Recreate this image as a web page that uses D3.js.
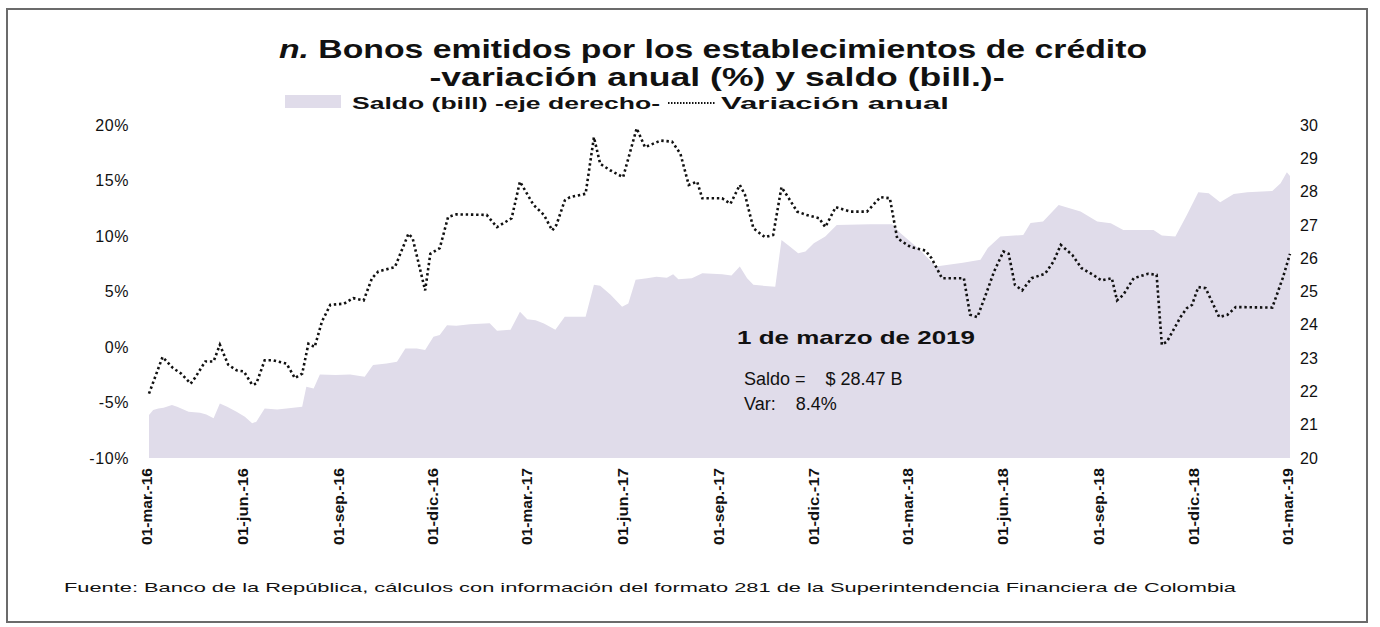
<!DOCTYPE html>
<html>
<head>
<meta charset="utf-8">
<script src="https://cdn.jsdelivr.net/npm/d3@7"></script>
<style>
  body { margin: 0; background: #fff; }
  svg { display: block; font-family: "Liberation Sans", Arial, sans-serif; }
</style>
</head>
<body>
<div id="chart"></div>
<script>
// ---- data ----
const tickDates = ["2016-03-01", "2016-06-01", "2016-09-01", "2016-12-01", "2017-03-01", "2017-06-01",
  "2017-09-01", "2017-12-01", "2018-03-01", "2018-06-01", "2018-09-01", "2018-12-01", "2019-03-01"];
const tickLabels = ["01-mar.-16", "01-jun.-16", "01-sep.-16", "01-dic.-16", "01-mar.-17", "01-jun.-17",
  "01-sep.-17", "01-dic.-17", "01-mar.-18", "01-jun.-18", "01-sep.-18", "01-dic.-18", "01-mar.-19"];
const leftTicks = [-10, -5, 0, 5, 10, 15, 20];
const rightTicks = [20, 21, 22, 23, 24, 25, 26, 27, 28, 29, 30];

// saldo (bill.) - right axis
const saldoDates = ["2016-03-01", "2016-03-05", "2016-03-10", "2016-03-15", "2016-03-23", "2016-03-28",
  "2016-04-08", "2016-04-19", "2016-04-25", "2016-05-02", "2016-05-08", "2016-05-15", "2016-05-24",
  "2016-06-01", "2016-06-08", "2016-06-12", "2016-06-20", "2016-07-02", "2016-07-11", "2016-07-26",
  "2016-07-30", "2016-08-06", "2016-08-12", "2016-08-27", "2016-09-10", "2016-09-24", "2016-10-02",
  "2016-10-15", "2016-10-25", "2016-11-02", "2016-11-13", "2016-11-21", "2016-11-29", "2016-12-05",
  "2016-12-12", "2016-12-21", "2017-01-03", "2017-01-22", "2017-01-29", "2017-02-11", "2017-02-20",
  "2017-02-27", "2017-03-07", "2017-03-15", "2017-03-26", "2017-04-04", "2017-04-24", "2017-05-02",
  "2017-05-08", "2017-05-18", "2017-05-29", "2017-06-04", "2017-06-11", "2017-06-22", "2017-07-01",
  "2017-07-11", "2017-07-17", "2017-07-22", "2017-08-04", "2017-08-14", "2017-09-02", "2017-09-11",
  "2017-09-19", "2017-09-26", "2017-10-02", "2017-10-23", "2017-10-29", "2017-11-06", "2017-11-14",
  "2017-11-21", "2017-11-29", "2017-12-10", "2017-12-21", "2018-01-22", "2018-02-12", "2018-02-20",
  "2018-03-11", "2018-03-26", "2018-04-21", "2018-05-08", "2018-05-15", "2018-05-27", "2018-06-18",
  "2018-06-25", "2018-07-07", "2018-07-22", "2018-08-12", "2018-08-28", "2018-09-10", "2018-09-22",
  "2018-10-21", "2018-10-29", "2018-11-11", "2018-11-22", "2018-12-03", "2018-12-13", "2018-12-24",
  "2019-01-06", "2019-01-19", "2019-02-12", "2019-02-20", "2019-02-26", "2019-03-01"];
const saldoValues = [21.29, 21.44, 21.49, 21.51, 21.59, 21.54,
  21.39, 21.36, 21.31, 21.19, 21.64, 21.54, 21.39,
  21.24, 21.04, 21.09, 21.49, 21.46, 21.49, 21.54,
  22.14, 22.09, 22.51, 22.49, 22.51, 22.44, 22.79,
  22.84, 22.89, 23.29, 23.29, 23.24, 23.64, 23.69,
  23.99, 23.97, 24.02, 24.05, 23.82, 23.85, 24.39,
  24.17, 24.14, 24.04, 23.85, 24.24, 24.24, 25.20,
  25.17, 24.90, 24.54, 24.64, 25.35, 25.40, 25.44,
  25.41, 25.52, 25.37, 25.40, 25.55, 25.52, 25.48,
  25.75, 25.40, 25.20, 25.14, 26.55, 26.35, 26.15,
  26.20, 26.45, 26.65, 27.00, 27.02, 27.02, 26.76,
  26.25, 25.75, 25.86, 25.95, 26.31, 26.65, 26.70,
  27.06, 27.10, 27.60, 27.40, 27.10, 27.05, 26.85,
  26.85, 26.68, 26.65, 27.30, 27.98, 27.95, 27.68,
  27.93, 27.98, 28.02, 28.25, 28.58, 28.47];

// variacion anual (%) - left axis
const varDates = ["2016-03-01", "2016-03-14", "2016-03-24", "2016-04-01", "2016-04-10", "2016-04-14",
  "2016-04-24", "2016-05-02", "2016-05-08", "2016-05-16", "2016-05-24", "2016-05-31", "2016-06-08",
  "2016-06-12", "2016-06-20", "2016-06-28", "2016-07-11", "2016-07-19", "2016-07-26", "2016-08-01",
  "2016-08-07", "2016-08-14", "2016-08-22", "2016-09-04", "2016-09-13", "2016-09-23", "2016-10-01",
  "2016-10-07", "2016-10-23", "2016-11-05", "2016-11-09", "2016-11-21", "2016-11-26", "2016-12-05",
  "2016-12-13", "2016-12-21", "2017-01-19", "2017-01-29", "2017-02-12", "2017-02-20", "2017-02-25",
  "2017-03-05", "2017-03-15", "2017-03-23", "2017-03-27", "2017-04-04", "2017-04-09", "2017-04-24",
  "2017-05-02", "2017-05-08", "2017-05-18", "2017-05-30", "2017-06-12", "2017-06-20", "2017-07-05",
  "2017-07-16", "2017-07-24", "2017-08-01", "2017-08-09", "2017-08-14", "2017-08-23", "2017-09-02",
  "2017-09-10", "2017-09-19", "2017-09-24", "2017-10-02", "2017-10-13", "2017-10-21", "2017-10-29",
  "2017-11-05", "2017-11-13", "2017-11-22", "2017-12-04", "2017-12-10", "2017-12-20", "2018-01-03",
  "2018-01-19", "2018-02-01", "2018-02-10", "2018-02-17", "2018-03-02", "2018-03-16", "2018-03-22",
  "2018-04-01", "2018-04-22", "2018-04-28", "2018-05-05", "2018-05-13", "2018-05-21", "2018-05-30",
  "2018-06-04", "2018-06-10", "2018-06-17", "2018-06-26", "2018-07-09", "2018-07-17", "2018-07-24",
  "2018-08-04", "2018-08-13", "2018-08-24", "2018-09-01", "2018-09-11", "2018-09-16", "2018-09-22",
  "2018-10-02", "2018-10-16", "2018-10-24", "2018-10-29", "2018-11-03", "2018-11-16", "2018-11-22",
  "2018-11-27", "2018-12-03", "2018-12-10", "2018-12-23", "2018-12-31", "2019-01-08", "2019-02-12",
  "2019-02-22", "2019-03-01"];
const varValues = [-4.2, -0.9, -1.9, -2.4, -3.3, -2.8,
  -1.3, -1.3, 0.2, -1.6, -2.1, -2.2, -3.4,
  -3.3, -1.2, -1.2, -1.5, -2.8, -2.4, 0.3,
  0.0, 2.3, 3.8, 3.9, 4.4, 4.2, 6.2,
  6.8, 7.2, 10.2, 9.8, 5.1, 8.4, 8.9,
  11.7, 11.95, 11.9, 10.8, 11.6, 14.9, 14.1,
  12.8, 11.9, 10.5, 11.0, 13.2, 13.5, 13.8,
  18.9, 16.5, 15.9, 15.3, 19.7, 18.0, 18.6,
  18.5, 17.4, 14.6, 14.9, 13.4, 13.4, 13.4,
  12.9, 14.6, 13.7, 10.7, 9.9, 10.1, 14.4,
  13.4, 12.2, 11.9, 11.6, 10.8, 12.6, 12.2,
  12.2, 13.5, 13.4, 9.8, 9.0, 8.7, 8.0,
  6.2, 6.2, 2.9, 2.7, 4.7, 6.8, 8.6,
  8.4, 5.6, 5.1, 6.2, 6.6, 7.7, 9.2,
  8.3, 7.1, 6.5, 6.0, 6.2, 4.2, 4.7,
  6.2, 6.6, 6.5, 0.2, 0.5, 2.7, 3.5,
  3.8, 5.4, 5.3, 2.7, 2.9, 3.6, 3.55,
  6.2, 8.4];

// ---- chart ----
const width = 1380, height = 627;
const plot = {left: 149, right: 1290, top: 125, bottom: 458};
const parse = d3.timeParse("%Y-%m-%d");

const svg = d3.create("svg")
  .attr("width", width)
  .attr("height", height);

// frame
svg.append("rect")
  .attr("x", 7).attr("y", 9)
  .attr("width", 1360).attr("height", 613)
  .attr("fill", "none")
  .attr("stroke", "#6b6b6b")
  .attr("stroke-width", 2);

const x = d3.scaleTime()
  .domain([parse("2016-03-01"), parse("2019-03-01")])
  .range([plot.left, plot.right]);
const yLeft = d3.scaleLinear().domain([-10, 20]).range([plot.bottom, plot.top]);
const yRight = d3.scaleLinear().domain([20, 30]).range([plot.bottom, plot.top]);

const saldo = saldoDates.map((d, i) => ({date: parse(d), v: saldoValues[i]}));
const variacion = varDates.map((d, i) => ({date: parse(d), v: varValues[i]}));

// area
svg.append("path")
  .datum(saldo)
  .attr("fill", "#e0dcea")
  .attr("d", d3.area()
    .x(d => x(d.date))
    .y0(yRight(20))
    .y1(d => yRight(d.v)));

// dotted line
svg.append("path")
  .datum(variacion)
  .attr("fill", "none")
  .attr("stroke", "#111")
  .attr("stroke-width", 2.6)
  .attr("stroke-dasharray", "2.4,2.8")
  .attr("d", d3.line()
    .x(d => x(d.date))
    .y(d => yLeft(d.v)));

// left axis
const axL = svg.append("g")
  .attr("transform", `translate(${plot.left - 20},0)`)
  .call(d3.axisLeft(yLeft).tickValues(leftTicks).tickFormat(d => d + "%").tickSize(0).tickPadding(0));
axL.select(".domain").remove();
axL.selectAll("text")
  .attr("font-family", "Liberation Sans, Arial, sans-serif")
  .attr("font-size", 16)
  .attr("fill", "#111")
  .attr("letter-spacing", 0.6);

// right axis
const axR = svg.append("g")
  .attr("transform", `translate(${plot.right + 10},0)`)
  .call(d3.axisRight(yRight).tickValues(rightTicks).tickSize(0).tickPadding(0));
axR.select(".domain").remove();
axR.selectAll("text")
  .attr("font-family", "Liberation Sans, Arial, sans-serif")
  .attr("font-size", 16)
  .attr("fill", "#111");

// x labels (rotated)
svg.append("g")
  .selectAll("text")
  .data(tickDates)
  .join("text")
  .attr("transform", d => `translate(${x(parse(d)) - 2},468) rotate(-90)`)
  .attr("text-anchor", "end")
  .attr("dy", "0.35em")
  .attr("font-size", 14)
  .attr("font-weight", "bold")
  .attr("fill", "#111")
  .attr("textLength", 77)
  .attr("lengthAdjust", "spacingAndGlyphs")
  .text((d, i) => tickLabels[i]);

// title
const t1 = svg.append("text")
  .attr("x", 713).attr("y", 58)
  .attr("text-anchor", "middle")
  .attr("font-size", 25)
  .attr("font-weight", "bold")
  .attr("fill", "#111")
  .attr("textLength", 868)
  .attr("lengthAdjust", "spacingAndGlyphs");
t1.append("tspan").attr("font-style", "italic").text("n.");
t1.append("tspan").text(" Bonos emitidos por los establecimientos de crédito");

svg.append("text")
  .attr("x", 717).attr("y", 86)
  .attr("text-anchor", "middle")
  .attr("font-size", 25)
  .attr("font-weight", "bold")
  .attr("fill", "#111")
  .attr("textLength", 575)
  .attr("lengthAdjust", "spacingAndGlyphs")
  .text("-variación anual (%) y saldo (bill.)-");

// legend
svg.append("rect")
  .attr("x", 285).attr("y", 95)
  .attr("width", 56).attr("height", 13)
  .attr("fill", "#e0dcea");
svg.append("text")
  .attr("x", 352).attr("y", 109)
  .attr("font-size", 16).attr("font-weight", "bold").attr("fill", "#111")
  .attr("textLength", 308).attr("lengthAdjust", "spacingAndGlyphs")
  .text("Saldo (bill) -eje derecho-");
svg.append("line")
  .attr("x1", 668).attr("x2", 716)
  .attr("y1", 103).attr("y2", 103)
  .attr("stroke", "#111").attr("stroke-width", 1.8)
  .attr("stroke-dasharray", "1.5,1.5");
svg.append("text")
  .attr("x", 721).attr("y", 109)
  .attr("font-size", 16).attr("font-weight", "bold").attr("fill", "#111")
  .attr("textLength", 228).attr("lengthAdjust", "spacingAndGlyphs")
  .text("Variación anual");

// annotation
svg.append("text")
  .attr("x", 737).attr("y", 344)
  .attr("font-size", 19).attr("font-weight", "bold").attr("fill", "#111")
  .attr("textLength", 238).attr("lengthAdjust", "spacingAndGlyphs")
  .text("1 de marzo de 2019");
svg.append("text")
  .attr("x", 744).attr("y", 385)
  .attr("font-size", 18).attr("fill", "#111")
  .attr("xml:space", "preserve")
  .text("Saldo =    $ 28.47 B");
svg.append("text")
  .attr("x", 744).attr("y", 410)
  .attr("font-size", 18).attr("fill", "#111")
  .attr("xml:space", "preserve")
  .text("Var:    8.4%");

// source
svg.append("text")
  .attr("x", 64).attr("y", 592)
  .attr("font-size", 13).attr("fill", "#111")
  .attr("textLength", 1172).attr("lengthAdjust", "spacingAndGlyphs")
  .text("Fuente:  Banco de la República, cálculos con información del formato 281 de la Superintendencia Financiera de Colombia");

document.getElementById("chart").appendChild(svg.node());
</script>
</body>
</html>
